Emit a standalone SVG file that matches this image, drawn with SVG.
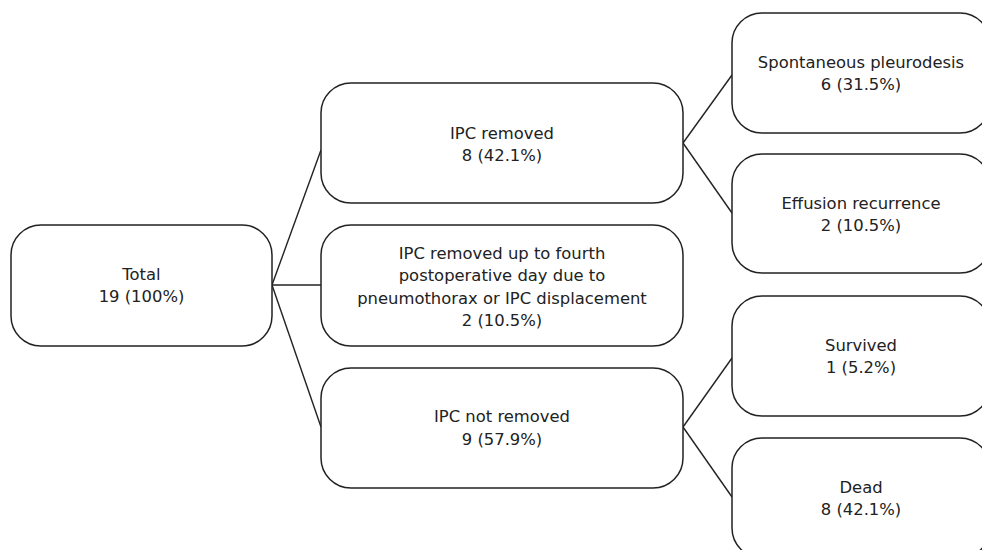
<svg xmlns="http://www.w3.org/2000/svg" width="982" height="550" viewBox="0 0 982 550">
<style>
.box{fill:#fff;stroke:#222;stroke-width:1.5}
.c{stroke:#222;stroke-width:1.4;fill:none}
text{font-family:"DejaVu Sans",sans-serif;font-size:16.4px;fill:#222;text-anchor:middle}
</style>
<rect width="982" height="550" fill="#fff"/>
<g id="connectors">
<line class="c" x1="272" y1="285" x2="321" y2="150"/>
<line class="c" x1="272" y1="285" x2="321" y2="285"/>
<line class="c" x1="272" y1="285" x2="321" y2="427"/>
<line class="c" x1="683" y1="143" x2="732" y2="75"/>
<line class="c" x1="683" y1="143" x2="732" y2="213"/>
<line class="c" x1="683" y1="427" x2="732" y2="358"/>
<line class="c" x1="683" y1="427" x2="732" y2="497"/>
</g>
<g id="total">
<rect class="box" x="11" y="225" width="261" height="121" rx="30"/>
<text x="141.5" y="280">Total</text>
<text x="141.5" y="302">19 (100%)</text>
</g>
<g id="ipc-removed">
<rect class="box" x="321" y="83" width="362" height="120" rx="30"/>
<text x="502" y="139">IPC removed</text>
<text x="502" y="161">8 (42.1%)</text>
</g>
<g id="ipc-early">
<rect class="box" x="321" y="225" width="362" height="121" rx="30"/>
<text x="502" y="259">IPC removed up to fourth</text>
<text x="502" y="281">postoperative day due to</text>
<text x="502" y="303.5">pneumothorax or IPC displacement</text>
<text x="502" y="326">2 (10.5%)</text>
</g>
<g id="ipc-not-removed">
<rect class="box" x="321" y="368" width="362" height="120" rx="30"/>
<text x="502" y="422">IPC not removed</text>
<text x="502" y="445">9 (57.9%)</text>
</g>
<g id="spontaneous">
<rect class="box" x="732" y="13" width="258" height="120" rx="30"/>
<text x="861" y="68">Spontaneous pleurodesis</text>
<text x="861" y="90">6 (31.5%)</text>
</g>
<g id="effusion">
<rect class="box" x="732" y="154" width="258" height="119" rx="30"/>
<text x="861" y="209">Effusion recurrence</text>
<text x="861" y="231">2 (10.5%)</text>
</g>
<g id="survived">
<rect class="box" x="732" y="296" width="258" height="120" rx="30"/>
<text x="861" y="351">Survived</text>
<text x="861" y="373">1 (5.2%)</text>
</g>
<g id="dead">
<rect class="box" x="732" y="438" width="258" height="120" rx="30"/>
<text x="861" y="493">Dead</text>
<text x="861" y="515">8 (42.1%)</text>
</g>
</svg>
